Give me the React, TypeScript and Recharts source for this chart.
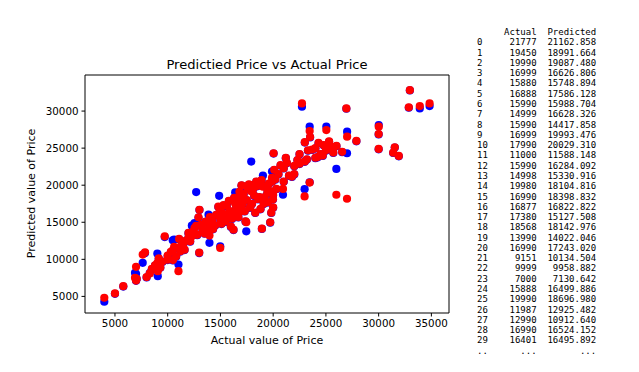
import { ScatterChart, Scatter, XAxis, YAxis, ReferenceLine } from "recharts";

// actual price of each test car
const actual = [
  3990, 5000, 5790, 7000, 7060, 7630, 7850, 6900, 8000, 8300,
  8500, 8800, 9020, 9060, 9151, 9500, 9720, 9999, 7000, 10000,
  10300, 10480, 10610, 11000, 11020, 11080, 11300, 11500, 11700, 11970,
  11987, 12130, 12290, 12540, 12700, 12920, 12990, 13010, 13300, 13500,
  13870, 13960, 13990, 14200, 14500, 14880, 14910, 14980, 14998, 14999,
  15200, 15400, 15600, 15880, 15888, 15990, 15990, 15990, 16240, 16400,
  16401, 16600, 16877, 16888, 16990, 16990, 16990, 16999, 16999, 17040,
  17200, 17380, 17450, 17600, 17800, 17920, 17990, 18200, 18400, 18568,
  18800, 18930, 19030, 19200, 19450, 19600, 19720, 19820, 19890, 19980,
  19990, 19990, 20040, 20100, 20200, 20500, 20930, 21000, 21300, 21500,
  21777, 22000, 22300, 22500, 22730, 22980, 23000, 23200, 23460, 23460,
  23500, 23700, 24000, 24200, 24500, 24800, 25040, 25200, 25500, 25990,
  26000, 26540, 27010, 27000, 26940, 27890, 30010, 30000, 30000, 31530,
  31380, 31910, 32960, 32860, 33900, 34830, 12000, 12400, 12800, 13200,
  13600, 13800, 14000, 14300, 14600, 14800, 15100, 15300, 15500, 15700,
  15800, 16100, 16300, 16500, 16700, 16800, 17100, 17300, 17500, 17700,
  18000, 18100, 18300, 18500, 18700, 18900, 19100, 19300, 19500, 19700,
  19900, 20000, 20300, 20700, 21000, 21200, 22000, 22500, 23000, 23300,
  24000, 24300, 24700, 25000, 25300, 25700, 10800, 11200, 11600, 10500,
  9300,
];

// first model (blue)
const predBlue = [
  4290, 5350, 6330, 8050, 7350, 9530, 10850, 8180, 7550, 8150,
  8650, 9150, 10780, 7730, 10050, 9650, 13000, 9900, 7100, 10450,
  10950, 12570, 12660, 11500, 9300, 12700, 11750, 12150, 12450, 13500,
  12880, 12380, 14540, 14900, 19070, 15600, 10850, 16650, 13950, 13450,
  16020, 12220, 13980, 15150, 14550, 18570, 16280, 11760, 15280, 16580,
  16150, 15550, 17150, 15700, 16450, 15940, 14370, 16240, 13950, 19020,
  16450, 18150, 16780, 17540, 18350, 17200, 16480, 16580, 19950, 19870,
  18750, 15080, 13780, 19450, 16950, 23180, 19980, 18550, 20450, 18100,
  16750, 14100, 21300, 18350, 18950, 20150, 14950, 16250, 21840, 18060,
  19040, 18650, 24260, 22020, 20750, 21450, 18710, 22250, 22950, 21250,
  21120, 22550, 23350, 24150, 30580, 19470, 25750, 23450, 27890, 20400,
  26450, 24750, 24950, 23750, 24150, 25350, 27890, 24950, 25150, 22200,
  25250, 24450, 27220, 24310, 30310, 25920, 28110, 26850, 24840, 25070,
  24340, 23900, 32780, 30450, 30360, 30670, 12950, 13650, 13250, 14650,
  15050, 13950, 15650, 14050, 15950, 17050, 14750, 17250, 15050, 16050,
  17850, 15450, 18250, 17050, 15650, 19050, 17450, 16450, 17950, 20050,
  17450, 19450, 16250, 19850, 18350, 20650, 17450, 19750, 17650, 19150,
  20450, 16950, 19450, 22650, 20450, 23650, 21450, 22850, 23150, 24650,
  23650, 25650, 23950, 24650, 25850, 24350, 10350, 11050, 11250, 9850,
  8850,
];

// second model (red)
const predRed = [
  4820, 5400, 6380, 8990, 7380, 10640, 10950, 7500, 7600, 8100,
  8700, 9200, 9500, 8400, 10135, 9700, 13100, 9959, 7131, 10500,
  11000, 11200, 11700, 11588, 8400, 12750, 11800, 12200, 12500, 13560,
  12925, 12430, 13100, 14200, 14500, 15660, 10913, 16690, 14000, 13500,
  14800, 13200, 14022, 15200, 14600, 15800, 16330, 11540, 15331, 16628,
  16200, 15600, 17200, 15749, 16500, 15989, 14418, 16284, 14000, 17500,
  16496, 18200, 16823, 17586, 18399, 17243, 16524, 16627, 19993, 19920,
  18800, 15128, 15000, 19500, 17000, 19200, 20029, 18600, 20500, 18143,
  16800, 14140, 19800, 18400, 18992, 20200, 14990, 16300, 21000, 18105,
  19087, 18697, 24310, 22070, 20800, 21500, 19500, 22300, 23000, 21300,
  21163, 22600, 23400, 24200, 31030, 18480, 25800, 23500, 27300, 20360,
  26500, 24800, 25000, 23800, 24200, 25400, 27440, 25000, 25200, 18710,
  25300, 24500, 26550, 18170, 30360, 25970, 27890, 26900, 24890, 25120,
  24390, 23950, 32820, 30500, 30670, 31030, 13000, 13700, 13300, 14700,
  15100, 14000, 15700, 14100, 16000, 17100, 14800, 17300, 15100, 16100,
  17900, 15500, 18300, 17100, 15700, 19100, 17500, 16500, 18000, 20100,
  17500, 19500, 16300, 19900, 18400, 20700, 17500, 19800, 17700, 19200,
  20500, 17000, 19500, 22700, 20500, 23700, 21500, 22900, 23200, 24700,
  23700, 25700, 24000, 24700, 25900, 24400, 10400, 11100, 11300, 9900,
  8900,
];

const xTicks = [5000, 10000, 15000, 20000, 25000, 30000, 35000];
const yTicks = [5000, 10000, 15000, 20000, 25000, 30000];

// printed DataFrame head
const tableActual = [
  21777, 19450, 19990, 16999, 15880, 16888, 15990, 14999, 15990, 16999,
  17990, 11000, 15990, 14998, 19980, 16990, 16877, 17380, 18568, 13990,
  16990, 9151, 9999, 7000, 15888, 19990, 11987, 12990, 16990, 16401,
];
const tablePredicted = [
  21162.858, 18991.664, 19087.48, 16626.806, 15748.894, 17586.128, 15988.704,
  16628.326, 14417.858, 19993.476, 20029.31, 11588.148, 16284.092, 15330.916,
  18104.816, 18398.832, 16822.822, 15127.508, 18142.976, 14022.046, 17243.02,
  10134.504, 9958.882, 7130.642, 16499.886, 18696.98, 12925.482, 10912.64,
  16524.152, 16495.892,
];

const X_DOMAIN = [2160, 36670];
const Y_DOMAIN = [2760, 34865];

const blueData = actual.map((a, i) => ({ x: a, y: predBlue[i] }));
const redData = actual.map((a, i) => ({ x: a, y: predRed[i] }));

const font = "'DejaVu Sans', sans-serif";

function dot(color: string) {
  return (props: any) => (
    <circle cx={props.cx} cy={props.cy} r={4.1} fill={color} />
  );
}

function tableText() {
  const lines = ["     Actual  Predicted"];
  tableActual.forEach((a, i) => {
    const idx = String(i).padEnd(2, " ");
    const act = String(a).padStart(9, " ");
    const pred = tablePredicted[i].toFixed(3).padStart(11, " ");
    lines.push(idx + act + pred);
  });
  lines.push("..      ...        ...");
  return lines.join("\n");
}

export default function App() {
  return (
    <div
      style={{
        position: "absolute",
        left: 0,
        top: 0,
        width: 639,
        height: 372,
        background: "#fff",
        fontFamily: font,
      }}
    >
      <ScatterChart
        width={639}
        height={372}
        margin={{ top: 75, right: 190, bottom: 0, left: 0 }}
      >
        <XAxis
          type="number"
          dataKey="x"
          domain={X_DOMAIN}
          ticks={xTicks}
          allowDataOverflow
          height={59}
          tickSize={3.5}
          tickMargin={3}
          stroke="#000"
          tick={{ fontSize: 10.3, fill: "#000", fontFamily: font }}
        />
        <YAxis
          type="number"
          dataKey="y"
          domain={Y_DOMAIN}
          ticks={yTicks}
          allowDataOverflow
          width={85}
          tickSize={3.5}
          tickMargin={3}
          stroke="#000"
          tick={{ fontSize: 10.3, fill: "#000", fontFamily: font }}
        />
        <ReferenceLine y={Y_DOMAIN[1]} stroke="#000" />
        <ReferenceLine x={X_DOMAIN[1]} stroke="#000" />
        <Scatter
          data={blueData}
          fill="#0000ff"
          shape={dot("#0000ff")}
          isAnimationActive={false}
        />
        <Scatter
          data={redData}
          fill="#ff0000"
          shape={dot("#ff0000")}
          isAnimationActive={false}
        />
      </ScatterChart>

      <div
        style={{
          position: "absolute",
          left: 85,
          width: 364,
          top: 57,
          textAlign: "center",
          fontSize: 13.1,
          color: "#000",
        }}
      >
        Predictied Price vs Actual Price
      </div>
      <div
        style={{
          position: "absolute",
          left: 85,
          width: 364,
          top: 334,
          textAlign: "center",
          fontSize: 11,
          color: "#000",
        }}
      >
        Actual value of Price
      </div>
      <div
        style={{
          position: "absolute",
          left: 31 - 100,
          top: 194 - 7,
          width: 200,
          textAlign: "center",
          fontSize: 11,
          color: "#000",
          transform: "rotate(-90deg)",
        }}
      >
        Predicted value of Price
      </div>

      <pre
        style={{
          position: "absolute",
          left: 477,
          top: 27,
          margin: 0,
          fontFamily: "'DejaVu Sans Mono', monospace",
          fontSize: 9,
          lineHeight: "10.28px",
          color: "#000",
        }}
      >
        {tableText()}
      </pre>
    </div>
  );
}
